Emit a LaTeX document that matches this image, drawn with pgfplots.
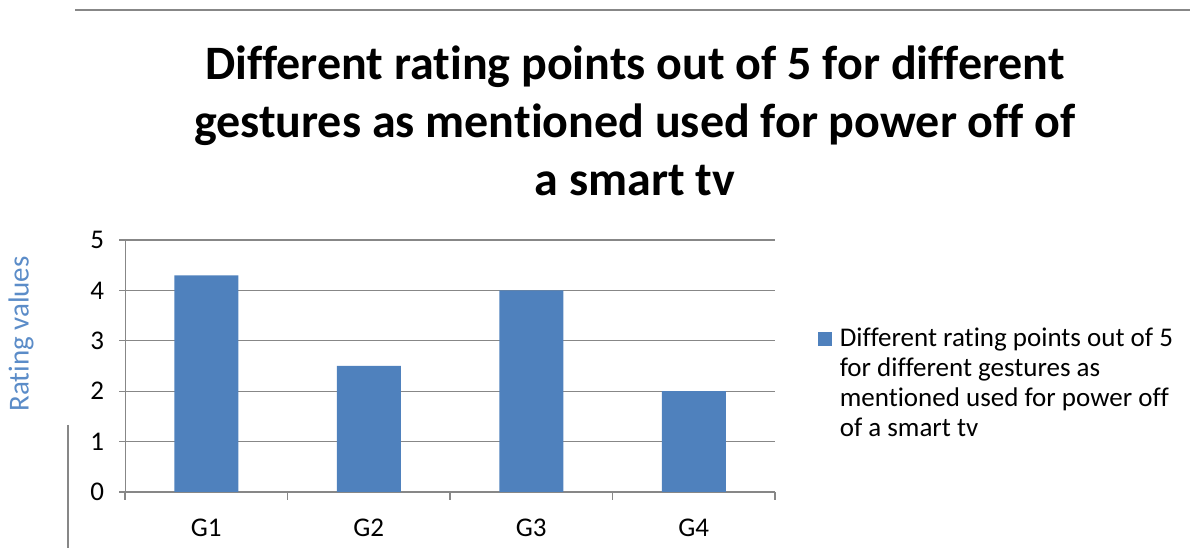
\documentclass[border=0pt]{standalone}
\usepackage{fontspec}
\setmainfont{Carlito}[Ligatures={NoCommon}]
\usepackage{pgfplots}
\pgfplotsset{compat=1.18}
\definecolor{BarBlue}{HTML}{4F81BD}
\definecolor{LabBlue}{HTML}{5B8CC8}
\definecolor{Rule}{HTML}{878787}

\begin{document}
\begin{tikzpicture}
\useasboundingbox (0,0) rectangle (595pt,275.5pt);
% frame pieces of the original slide
\draw[Rule,line width=1pt] (37.5pt,270.5pt) -- (595pt,270.5pt);
\draw[Rule,line width=0.8pt] (34pt,63pt) -- (34pt,1.5pt);
% title
\node[anchor=north,inner sep=0pt,align=center,font=\fontsize{24}{29}\selectfont\bfseries]
  at (317.5pt,253pt) {Different rating points out of 5 for different\\gestures as mentioned used for power off of\\a smart tv};
% y label
\node[rotate=90,LabBlue,font=\fontsize{14.5}{17}\selectfont] at (10.5pt,108.5pt) {Rating values};
\begin{axis}[
  at={(62.5pt,29.5pt)}, anchor=south west,
  scale only axis, width=325pt, height=126pt,
  xmin=0.5, xmax=4.5, ymin=0, ymax=5,
  axis lines=left, axis line style={Rule,-},
  xtick={1,2,3,4}, xticklabels={G1,G2,G3,G4},
  minor xtick={0.5,1.5,2.5,3.5,4.5},
  ytick={0,1,2,3,4,5},
  major x tick style={draw=none},
  minor tick length=4pt, major tick length=3pt,
  tick align=outside, tick style={Rule,line width=0.6pt},
  ymajorgrids, grid style={Rule,line width=0.6pt},
  ticklabel style={font=\fontsize{13.5}{15}\selectfont},
  /pgf/number format/assume math mode=true,
  xticklabel style={yshift=-7pt},
  yticklabel style={xshift=-4pt},
  ybar, bar width=32pt,
  legend style={draw=none,fill=none,at={(1.056,0.43)},anchor=west,
    font=\fontsize{13.5}{15}\selectfont, column sep=3pt,
    nodes={align=left,inner sep=1pt}},
  legend image code/.code={\fill[BarBlue] (0pt,19pt) rectangle (7pt,26pt);},
  clip=false,
]
\addplot[fill=BarBlue,draw=none] coordinates {(1,4.3) (2,2.5) (3,4.0) (4,2.0)};
\addlegendentry{Different rating points out of 5\\for different gestures as\\mentioned used for power off\\of a smart tv}
\end{axis}
\end{tikzpicture}
\end{document}
